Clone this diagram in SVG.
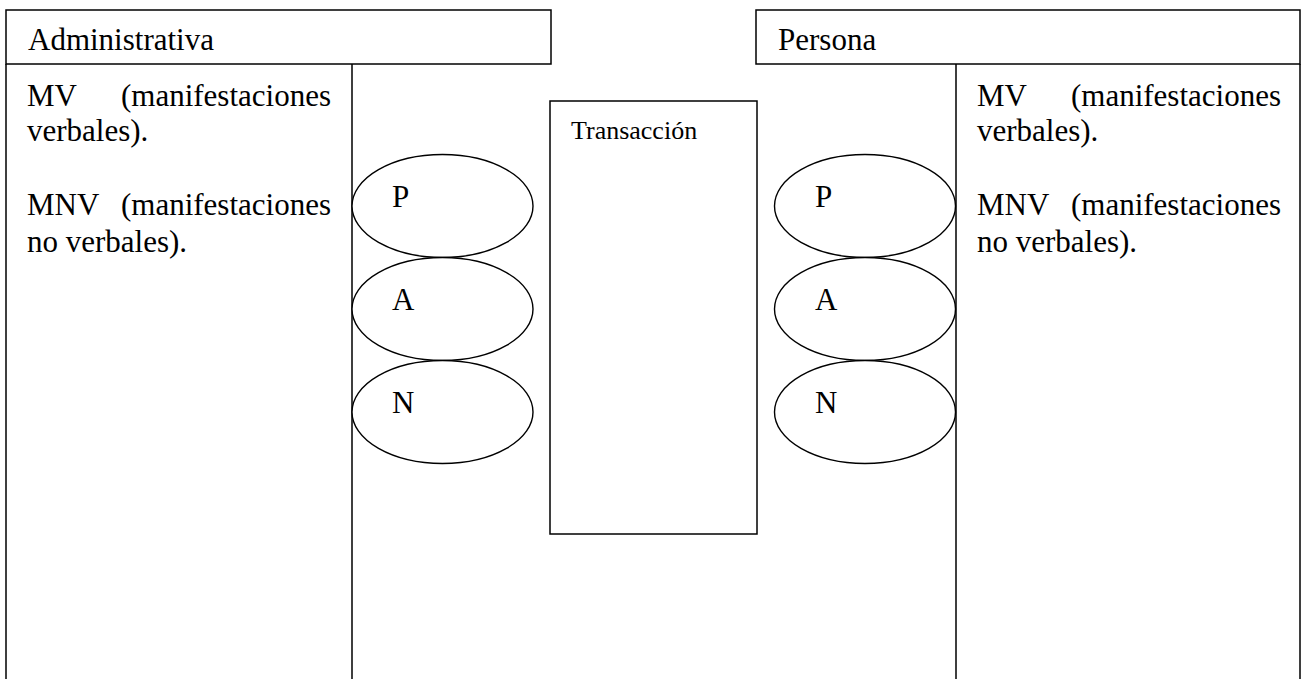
<svg xmlns="http://www.w3.org/2000/svg" width="1308" height="679" viewBox="0 0 1308 679">
<style>
.box{fill:none;stroke:#000;stroke-width:1.5}
.ell{fill:#fff;stroke:#000;stroke-width:1.4}
.t{font-family:"Liberation Serif","Times New Roman",serif;font-size:31px;fill:#000}
.ts{font-family:"Liberation Serif","Times New Roman",serif;font-size:26px;fill:#000}
</style>
<rect width="1308" height="679" fill="#fff"/>
<g id="administrativa-header">
<rect class="box" x="6" y="10" width="545" height="54"/>
<text class="t" x="28" y="50">Administrativa</text>
</g>
<g id="administrativa-column">
<path class="box" d="M6,64 V680 M352,64 V680"/>
<text class="t" x="27" y="106">MV</text>
<text class="t" x="331" y="106" text-anchor="end">(manifestaciones</text>
<text class="t" x="27" y="141">verbales).</text>
<text class="t" x="27" y="215">MNV</text>
<text class="t" x="331" y="215" text-anchor="end">(manifestaciones</text>
<text class="t" x="27" y="252">no verbales).</text>
</g>
<g id="persona-header">
<rect class="box" x="756" y="10" width="544" height="54"/>
<text class="t" x="778" y="50">Persona</text>
</g>
<g id="persona-column">
<path class="box" d="M956,64 V680 M1300,64 V680"/>
<text class="t" x="977" y="106">MV</text>
<text class="t" x="1281" y="106" text-anchor="end">(manifestaciones</text>
<text class="t" x="977" y="141">verbales).</text>
<text class="t" x="977" y="215">MNV</text>
<text class="t" x="1281" y="215" text-anchor="end">(manifestaciones</text>
<text class="t" x="977" y="252">no verbales).</text>
</g>
<g id="transaccion">
<rect class="box" x="550" y="101" width="207" height="433"/>
<text class="ts" x="571" y="139">Transacción</text>
</g>
<g id="left-P">
<ellipse class="ell" cx="442.5" cy="206" rx="90.5" ry="51.5"/>
<text class="t" x="392" y="207">P</text>
</g>
<g id="left-A">
<ellipse class="ell" cx="442.5" cy="309" rx="90.5" ry="51.5"/>
<text class="t" x="392" y="310">A</text>
</g>
<g id="left-N">
<ellipse class="ell" cx="442.5" cy="412" rx="90.5" ry="51.5"/>
<text class="t" x="392" y="413">N</text>
</g>
<g id="right-P">
<ellipse class="ell" cx="865" cy="206" rx="90.5" ry="51.5"/>
<text class="t" x="815" y="207">P</text>
</g>
<g id="right-A">
<ellipse class="ell" cx="865" cy="309" rx="90.5" ry="51.5"/>
<text class="t" x="815" y="310">A</text>
</g>
<g id="right-N">
<ellipse class="ell" cx="865" cy="412" rx="90.5" ry="51.5"/>
<text class="t" x="815" y="413">N</text>
</g>
<g id="connectors"/>
</svg>
